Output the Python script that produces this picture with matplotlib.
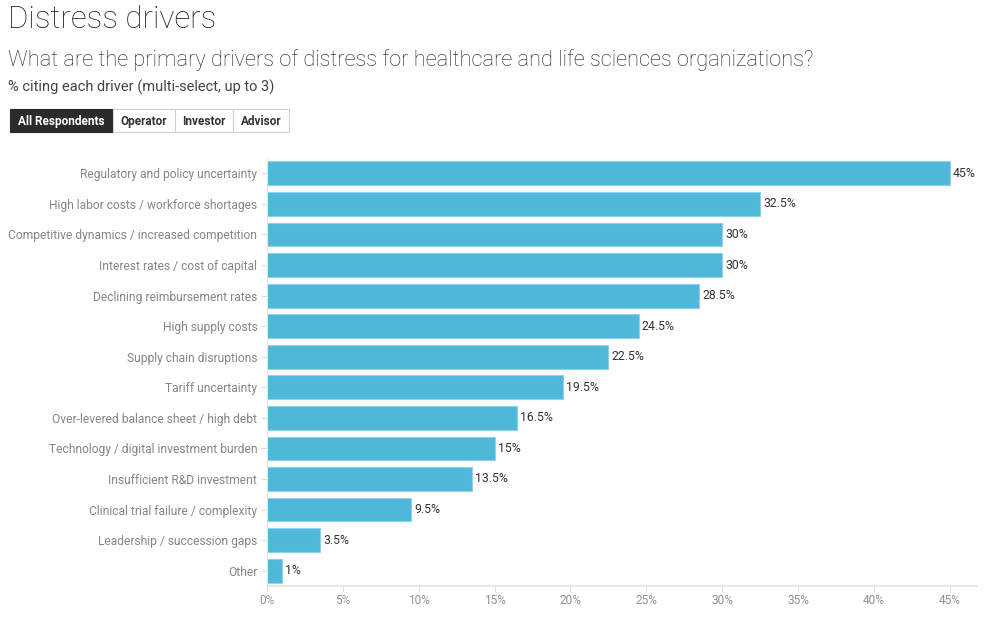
import matplotlib.pyplot as plt
from matplotlib.patches import Rectangle

plt.rcParams['font.family'] = ['Roboto', 'DejaVu Sans']

drivers = [
    'Regulatory and policy uncertainty',
    'High labor costs / workforce shortages',
    'Competitive dynamics / increased competition',
    'Interest rates / cost of capital',
    'Declining reimbursement rates',
    'High supply costs',
    'Supply chain disruptions',
    'Tariff uncertainty',
    'Over-levered balance sheet / high debt',
    'Technology / digital investment burden',
    'Insufficient R&D investment',
    'Clinical trial failure / complexity',
    'Leadership / succession gaps',
    'Other',
]
pct = [45, 32.5, 30, 30, 28.5, 24.5, 22.5, 19.5, 16.5, 15, 13.5, 9.5, 3.5, 1]
pct_labels = ['45%', '32.5%', '30%', '30%', '28.5%', '24.5%', '22.5%', '19.5%',
              '16.5%', '15%', '13.5%', '9.5%', '3.5%', '1%']
tabs = ['All Respondents', 'Operator', 'Investor', 'Advisor']

fig = plt.figure(figsize=(10, 6.18), dpi=100)
ax = fig.add_axes([0.267, 0.0518, 0.71, 0.6925])

y = list(range(len(drivers)))
ax.barh(y, pct, height=0.78, color='#4FB8DA', edgecolor='#8ED2EA', linewidth=0.8)
for i, v in enumerate(pct):
    ax.text(v + 0.2, i, pct_labels[i], va='center', ha='left', fontsize=8.8, color='#333333')

ax.set_ylim(len(drivers) - 0.5, -0.5)
ax.set_xlim(0, 46.8)
ax.set_yticks(y)
ax.set_yticklabels(drivers, fontsize=8.65, color='#858585')
ax.set_xticks(range(0, 50, 5))
ax.set_xticklabels([f'{t}%' for t in range(0, 50, 5)], fontsize=8.6, color='#909090')
ax.tick_params(axis='y', length=4, color='#dddddd', pad=3)
ax.tick_params(axis='x', length=4, color='#dddddd', pad=2)
for s in ['top', 'right']:
    ax.spines[s].set_visible(False)
ax.spines['bottom'].set_color('#e3e3e3')
ax.spines['left'].set_color('#e3e3e3')
ax.spines['bottom'].set_linewidth(1.2)

fig.text(0.008, 0.968, 'Distress drivers', fontsize=22.5, fontweight='light', color='#222222', va='center')
fig.text(0.008, 0.902, 'What are the primary drivers of distress for healthcare and life sciences organizations?',
         fontsize=15.7, fontweight='light', color='#222222', va='center')
fig.text(0.008, 0.859, '% citing each driver (multi-select, up to 3)', fontsize=10.5,
         color='#444444', va='center')

# tab buttons
tab_x = [10, 113, 175, 233, 289]
for i, name in enumerate(tabs):
    x0, x1 = tab_x[i], tab_x[i + 1]
    active = i == 0
    fig.patches.append(Rectangle((x0 / 1000, 1 - 132 / 618), (x1 - x0) / 1000, 23 / 618,
                                 transform=fig.transFigure,
                                 facecolor='#2b2b2b' if active else 'white',
                                 edgecolor='#2b2b2b' if active else '#d0d0d0', linewidth=0.8))
    fig.text((x0 + x1) / 2000, 1 - 121 / 618, name, fontsize=8.5, fontweight='bold',
             color='white' if active else '#333333', ha='center', va='center')

fig.savefig('out.png', dpi=100)
